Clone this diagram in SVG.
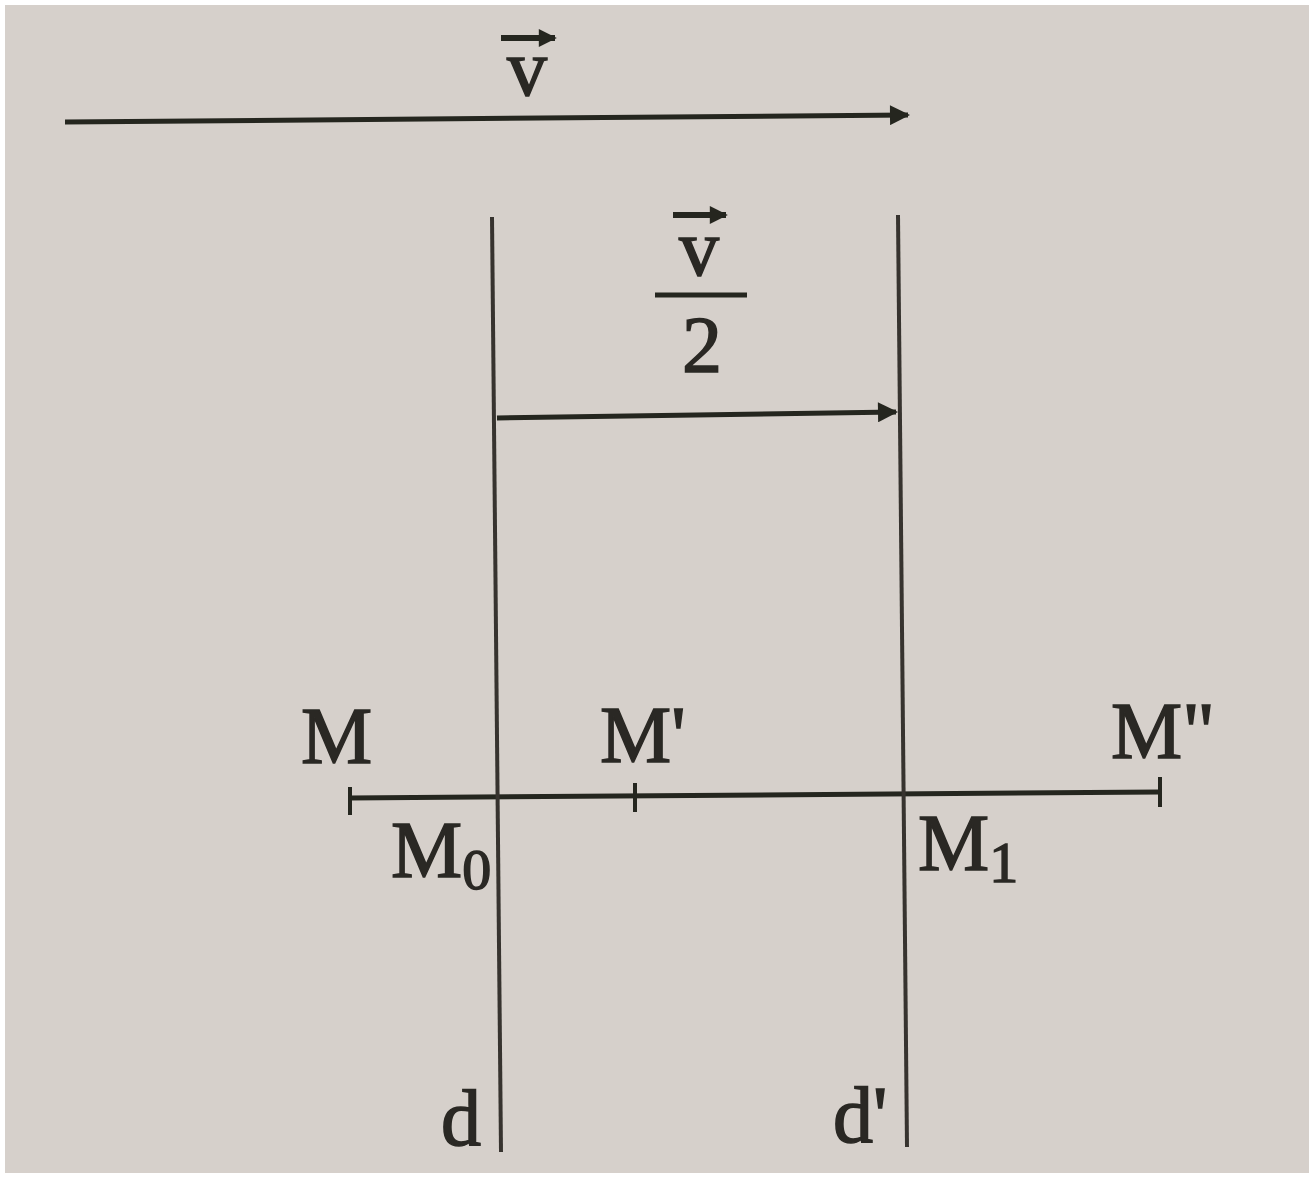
<svg xmlns="http://www.w3.org/2000/svg" width="1309" height="1177" viewBox="0 0 1309 1177">
<defs>
<style>
.ln{stroke:#25261f;stroke-width:5;fill:none;stroke-linecap:butt}
.vl{stroke:#37332f;stroke-width:4;fill:none}
.tk{stroke:#25261f;stroke-width:4}
.t{font-family:"Liberation Serif","Times New Roman",serif;font-size:80px;fill:#2a2824;stroke:#2a2824;stroke-width:1.5}
.s{font-family:"Liberation Serif","Times New Roman",serif;font-size:58px;fill:#2a2824;stroke:#2a2824;stroke-width:1.5}
</style>
<marker id="ah" viewBox="0 0 10 10" refX="9" refY="5" markerWidth="8" markerHeight="4" markerUnits="strokeWidth" orient="auto">
<path d="M0,0 L10,5 L0,10 Z" fill="#25261f"/>
</marker>
<marker id="ahs" viewBox="0 0 10 10" refX="9" refY="5" markerWidth="4" markerHeight="3" markerUnits="strokeWidth" orient="auto">
<path d="M0,0 L10,5 L0,10 Z" fill="#25261f"/>
</marker>
</defs>
<rect x="0" y="0" width="1309" height="1177" fill="#ffffff"/>
<rect x="5" y="5" width="1304" height="1168" fill="#d6d0cb"/>
<g id="connectors">
<line id="vec-v" class="ln" x1="65" y1="122" x2="908" y2="115" marker-end="url(#ah)"/>
<line id="vec-v2" class="ln" x1="497" y1="418" x2="896" y2="412" marker-end="url(#ah)"/>
<line id="seg" class="ln" x1="350" y1="798" x2="1160" y2="792"/>
<line class="tk" x1="350" y1="787" x2="350" y2="815"/>
<line class="tk" x1="635" y1="783" x2="635" y2="812"/>
<line class="tk" x1="1160" y1="777" x2="1160" y2="807"/>
</g>
<g id="line-d"><line class="vl" x1="492" y1="217" x2="501" y2="1152"/><text class="t" x="441" y="1145">d</text></g>
<g id="line-d1"><line class="vl" x1="898" y1="215" x2="907" y2="1147"/><text class="t" x="833" y="1142">d'</text></g>
<g id="label-v">
<text class="t" x="527" y="95" text-anchor="middle">v</text>
<line x1="501" y1="38" x2="555" y2="38" stroke="#25261f" stroke-width="6" marker-end="url(#ahs)"/>
</g>
<g id="label-v2">
<text class="t" x="699" y="275" text-anchor="middle">v</text>
<line x1="673" y1="215" x2="726" y2="215" stroke="#25261f" stroke-width="6" marker-end="url(#ahs)"/>
<line x1="655" y1="295" x2="747" y2="295" stroke="#25261f" stroke-width="5"/>
<text class="t" x="702" y="372" text-anchor="middle">2</text>
</g>
<g id="M"><text class="t" x="301" y="763">M</text></g>
<g id="M1p"><text class="t" x="600" y="762">M'</text></g>
<g id="M2p"><text class="t" x="1111" y="758">M"</text></g>
<g id="M0"><text class="t" x="391" y="877">M<tspan class="s" dy="12">0</tspan></text></g>
<g id="M1"><text class="t" x="918" y="870">M<tspan class="s" dy="12">1</tspan></text></g>
</svg>
